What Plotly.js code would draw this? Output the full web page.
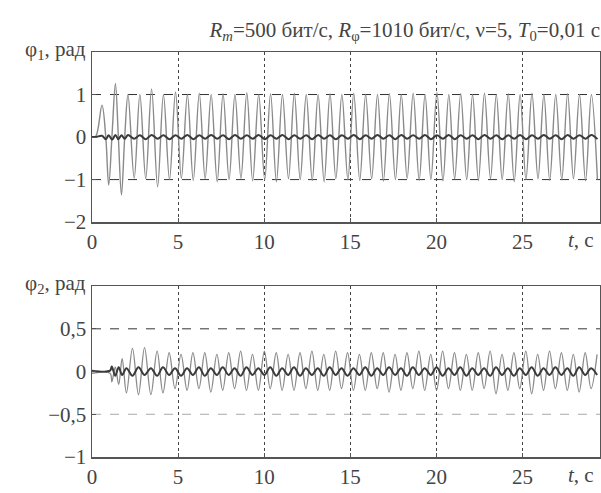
<!DOCTYPE html>
<html><head><meta charset="utf-8">
<script src="https://cdn.plot.ly/plotly-3.0.1.min.js"></script>
<style>body{margin:0;background:#fff}#c{width:601px;height:493px}</style>
</head><body>
<div id="c"></div>
<script>
// phi1: extrema of the large (grey) oscillation
const t1 = [0, 0.22, 0.58, 0.80, 0.97, 1.17, 1.36, 1.53, 1.71, 1.90, 2.09, 2.45, 2.78, 3.12, 3.46, 3.81, 4.15, 4.50, 4.85, 5.19, 5.54, 5.88, 6.23, 6.57, 6.92, 7.27, 7.61, 7.96, 8.30, 8.65, 8.99, 9.33, 9.68, 10.03, 10.37, 10.71, 11.06, 11.41, 11.75, 12.09, 12.44, 12.79, 13.13, 13.48, 13.82, 14.16, 14.51, 14.86, 15.20, 15.55, 15.89, 16.24, 16.58, 16.92, 17.27, 17.62, 17.96, 18.30, 18.65, 19.00, 19.34, 19.68, 20.03, 20.38, 20.72, 21.06, 21.41, 21.76, 22.10, 22.44, 22.79, 23.14, 23.48, 23.82, 24.17, 24.52, 24.86, 25.20, 25.55, 25.90, 26.24, 26.58, 26.93, 27.28, 27.62, 27.96, 28.31, 28.66, 29.00, 29.35];
const phi1 = [0, 0.02, 0.75, 0.0, -1.13, 0.1, 1.26, 0.0, -1.36, 0.0, 1.0, -0.97, 1.0, -0.98, 1.13, -1.17, 1.0, -1.0, 1.06, -0.97, 1.0, -1.02, 1.03, -0.98, 1.0, -1.05, 1.02, -1.0, 1.0, -0.97, 1.04, -1.03, 1.0, -1.0, 1.02, -1.05, 1.0, -0.98, 1.03, -1.0, 1.0, -1.02, 1.0, -1.05, 1.02, -0.98, 1.0, -1.0, 1.03, -1.02, 1.0, -0.98, 1.0, -1.04, 1.02, -1.0, 1.0, -0.97, 1.03, -1.02, 1.0, -1.0, 1.05, -1.03, 1.0, -0.98, 1.02, -1.0, 1.0, -1.02, 1.03, -0.98, 1.0, -1.0, 1.02, -1.05, 1.0, -1.0, 1.03, -0.98, 1.0, -1.02, 1.0, -1.0, 1.02, -0.98, 1.0, -1.03, 1.0, -1.0];
// phi1: small (dark) residual oscillation around zero
const phi1s = [0, 0, 0.03, -0.05, 0.04, -0.06, 0.05, -0.05, 0.04, -0.04, 0.05, -0.04, 0.04, -0.05, 0.05, -0.04, 0.04, -0.05, 0.04, -0.04, 0.05, -0.05, 0.04, -0.04, 0.05, -0.04, 0.04, -0.05, 0.05, -0.04, 0.04, -0.04, 0.05, -0.05, 0.04, -0.04, 0.05, -0.05, 0.04, -0.04, 0.04, -0.05, 0.05, -0.04, 0.04, -0.05, 0.04, -0.04, 0.05, -0.05, 0.04, -0.04, 0.05, -0.04, 0.04, -0.05, 0.05, -0.04, 0.04, -0.04, 0.05, -0.05, 0.04, -0.04, 0.05, -0.05, 0.04, -0.04, 0.04, -0.05, 0.05, -0.04, 0.04, -0.05, 0.04, -0.04, 0.05, -0.05, 0.04, -0.04, 0.05, -0.04, 0.04, -0.05, 0.05, -0.04, 0.04, -0.04, 0.05, -0.05];

// phi2: grey oscillation extrema
const t2 = [0, 1.05, 1.15, 1.35, 1.55, 1.75, 2.00, 2.35, 2.70, 3.05, 3.42, 3.78, 4.12, 4.48, 4.82, 5.17, 5.52, 5.86, 6.21, 6.55, 6.90, 7.25, 7.59, 7.94, 8.28, 8.63, 8.97, 9.32, 9.66, 10.01, 10.35, 10.70, 11.04, 11.39, 11.73, 12.08, 12.42, 12.77, 13.11, 13.46, 13.80, 14.15, 14.49, 14.84, 15.18, 15.53, 15.87, 16.22, 16.56, 16.91, 17.25, 17.60, 17.94, 18.29, 18.63, 18.98, 19.32, 19.67, 20.01, 20.36, 20.70, 21.05, 21.39, 21.74, 22.08, 22.43, 22.77, 23.12, 23.46, 23.81, 24.15, 24.50, 24.84, 25.19, 25.53, 25.88, 26.22, 26.57, 26.91, 27.26, 27.60, 27.95, 28.29, 28.64, 28.98, 29.33];
const phi2 = [-0.02, -0.02, -0.12, 0.05, -0.15, 0.15, -0.25, 0.27, -0.27, 0.28, -0.27, 0.24, -0.25, 0.22, -0.2, 0.2, -0.22, 0.22, -0.2, 0.22, -0.24, 0.2, -0.22, 0.22, -0.2, 0.24, -0.22, 0.2, -0.22, 0.24, -0.2, 0.22, -0.22, 0.2, -0.22, 0.22, -0.2, 0.24, -0.22, 0.2, -0.22, 0.24, -0.2, 0.22, -0.22, 0.2, -0.22, 0.22, -0.2, 0.22, -0.24, 0.2, -0.22, 0.22, -0.2, 0.24, -0.22, 0.2, -0.22, 0.24, -0.2, 0.22, -0.22, 0.2, -0.22, 0.22, -0.2, 0.24, -0.26, 0.2, -0.22, 0.22, -0.2, 0.24, -0.26, 0.2, -0.22, 0.24, -0.2, 0.22, -0.22, 0.2, -0.24, 0.22, -0.2, 0.2];
const phi2s = [0.01, 0.01, 0.06, -0.05, 0.05, -0.04, 0.04, -0.05, 0.05, -0.04, 0.04, -0.05, 0.05, -0.04, 0.04, -0.05, 0.04, -0.04, 0.05, -0.05, 0.04, -0.04, 0.05, -0.04, 0.04, -0.05, 0.05, -0.04, 0.04, -0.04, 0.05, -0.05, 0.04, -0.04, 0.05, -0.05, 0.04, -0.04, 0.04, -0.05, 0.05, -0.04, 0.04, -0.05, 0.04, -0.04, 0.05, -0.05, 0.04, -0.04, 0.05, -0.04, 0.04, -0.05, 0.05, -0.04, 0.04, -0.04, 0.05, -0.05, 0.04, -0.04, 0.05, -0.05, 0.04, -0.04, 0.04, -0.05, 0.05, -0.04, 0.04, -0.05, 0.04, -0.04, 0.05, -0.05, 0.04, -0.04, 0.05, -0.04, 0.04, -0.05, 0.05, -0.04, 0.04, -0.04];

const xTicks = [0, 5, 10, 15, 20, 25];
const y1Ticks = [-2, -1, 0, 1];
const y1Text = ['−2', '−1', '0', '1'];
const y2Ticks = [-1, -0.5, 0, 0.5];
const y2Text = ['−1', '−0,5', '0', '0,5'];

const grey = '#8a8a8a', dark = '#3a3a3a';

const traces = [
  {x: t1, y: phi1, xaxis: 'x', yaxis: 'y', mode: 'lines', line: {color: grey, width: 1.4, shape: 'spline', smoothing: 1}},
  {x: t1, y: phi1s, xaxis: 'x', yaxis: 'y', mode: 'lines', line: {color: dark, width: 2, shape: 'spline', smoothing: 1}},
  {x: t2, y: phi2, xaxis: 'x2', yaxis: 'y2', mode: 'lines', line: {color: grey, width: 1.3, shape: 'spline', smoothing: 1}},
  {x: t2, y: phi2s, xaxis: 'x2', yaxis: 'y2', mode: 'lines', line: {color: dark, width: 2, shape: 'spline', smoothing: 1}}
];

const layout = {
  width: 601, height: 493,
  margin: {l: 92, r: 1, t: 52, b: 36}, showlegend: false,
  font: {family: 'Liberation Serif', size: 21},
  title: {text: '<i>R<sub>m</sub></i>=500 бит/с, <i>R</i><sub>φ</sub>=1010 бит/с, ν=5, <i>T</i><sub>0</sub>=0,01 с',
    font: {family: 'Liberation Serif', size: 21}, xref: 'paper', x: 1, xanchor: 'right', yref: 'container', y: 0.94, yanchor: 'middle'},
  xaxis: {anchor: 'y', domain: [0, 1], range: [0, 29.5], tickvals: xTicks,
    showline: true, mirror: true, linecolor: '#555555', linewidth: 1.5, ticks: 'inside', ticklen: 4, tickcolor: '#555555',
    showgrid: true, gridcolor: '#444444', gridwidth: 1, griddash: 'dot', zeroline: false},
  yaxis: {anchor: 'x', domain: [0.58, 1], range: [-2, 2], tickvals: y1Ticks, ticktext: y1Text,
    showline: true, mirror: true, linecolor: '#555555', linewidth: 1.5, ticks: 'inside', ticklen: 4, tickcolor: '#555555',
    showgrid: false, zeroline: false},
  xaxis2: {anchor: 'y2', domain: [0, 1], range: [0, 29.5], tickvals: xTicks,
    showline: true, mirror: true, linecolor: '#555555', linewidth: 1.5, ticks: 'inside', ticklen: 4, tickcolor: '#555555',
    showgrid: true, gridcolor: '#444444', gridwidth: 1, griddash: 'dot', zeroline: false},
  yaxis2: {anchor: 'x2', domain: [0, 0.422], range: [-1, 1], tickvals: y2Ticks, ticktext: y2Text,
    showline: true, mirror: true, linecolor: '#555555', linewidth: 1.5, ticks: 'inside', ticklen: 4, tickcolor: '#555555',
    showgrid: false, zeroline: false},
  shapes: [
    {type: 'line', xref: 'x domain', yref: 'y', x0: 0, x1: 1, y0: 1, y1: 1, line: {color: '#333', width: 1, dash: 'dash'}, layer: 'below'},
    {type: 'line', xref: 'x domain', yref: 'y', x0: 0, x1: 1, y0: -1, y1: -1, line: {color: '#333', width: 1, dash: 'dash'}, layer: 'below'},
    {type: 'line', xref: 'x2 domain', yref: 'y2', x0: 0, x1: 1, y0: 0.5, y1: 0.5, line: {color: '#333', width: 1, dash: 'dash'}, layer: 'below'},
    {type: 'line', xref: 'x2 domain', yref: 'y2', x0: 0, x1: 1, y0: -0.5, y1: -0.5, line: {color: '#aaa', width: 1, dash: 'dash'}, layer: 'below'}
  ],
  annotations: [
    {xref: 'paper', yref: 'y domain', x: 0, y: 1, xanchor: 'right', yanchor: 'middle', xshift: -4, yshift: 2, showarrow: false,
     text: 'φ<sub>1</sub>, рад'},
    {xref: 'paper', yref: 'y2 domain', x: 0, y: 1, xanchor: 'right', yanchor: 'middle', xshift: -4, yshift: 2, showarrow: false,
     text: 'φ<sub>2</sub>, рад'},
    {xref: 'paper', yref: 'y domain', x: 1, y: 0, xanchor: 'right', yanchor: 'top', xshift: -4, yshift: -4, showarrow: false,
     text: '<i>t</i>, с'},
    {xref: 'paper', yref: 'y2 domain', x: 1, y: 0, xanchor: 'right', yanchor: 'top', xshift: -4, yshift: -4, showarrow: false,
     text: '<i>t</i>, с'}
  ]
};

Plotly.newPlot('c', traces, layout, {staticPlot: true});
</script></body></html>
